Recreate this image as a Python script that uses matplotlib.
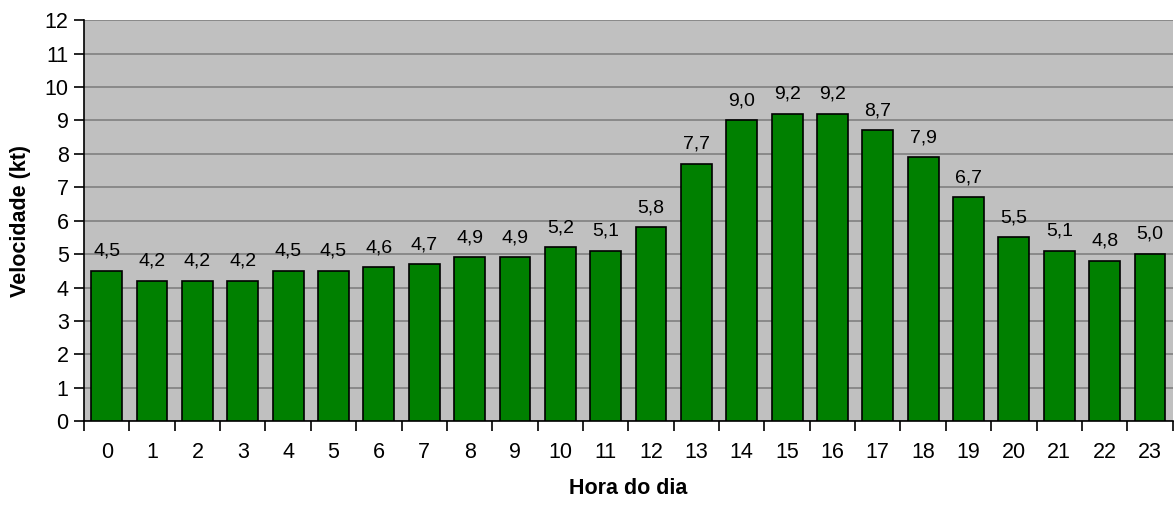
import numpy as np
import matplotlib.pyplot as plt
from matplotlib.ticker import MultipleLocator, FixedLocator

plt.rcParams['font.family'] = ['Liberation Sans', 'DejaVu Sans']

horas = list(range(24))
velocidade = [4.5, 4.2, 4.2, 4.2, 4.5, 4.5, 4.6, 4.7, 4.9, 4.9, 5.2, 5.1,
              5.8, 7.7, 9.0, 9.2, 9.2, 8.7, 7.9, 6.7, 5.5, 5.1, 4.8, 5.0]

fig = plt.figure(figsize=(11.75, 5.05), dpi=100)
ax = fig.add_axes([0.0715, 0.166, 0.9265, 0.794])
ax.set_facecolor('#C0C0C0')

x = np.arange(len(horas))
ax.bar(x, velocidade, width=0.68, color='#008000', edgecolor='black', linewidth=1.2, zorder=3)

for xi, v in zip(x, velocidade):
    ax.annotate(f"{v:.1f}".replace('.', ','), (xi, v), xytext=(0, 8),
                textcoords='offset points', ha='center', va='bottom', fontsize=14)

ax.set_xlim(-0.5, 23.5)
ax.set_ylim(0, 12)
ax.yaxis.set_major_locator(MultipleLocator(1))
ax.grid(axis='y', color='#808080', linewidth=1.2, zorder=0)

ax.set_xticks(x)
ax.set_xticklabels([str(h) for h in horas], fontsize=15.5)
ax.tick_params(axis='x', which='major', length=0, pad=15)
ax.xaxis.set_minor_locator(FixedLocator(np.arange(-0.5, 24, 1)))
ax.tick_params(axis='x', which='minor', length=7, width=1.2, direction='out')
ax.tick_params(axis='y', length=7, width=1.2, labelsize=15.5, pad=4)

for s in ['top', 'right']:
    ax.spines[s].set_visible(False)
ax.spines['left'].set_linewidth(1.2)
ax.spines['bottom'].set_linewidth(1.2)

ax.set_xlabel('Hora do dia', fontsize=15.5, fontweight='bold', labelpad=11)
ax.set_ylabel('Velocidade (kt)', fontsize=15.5, fontweight='bold', labelpad=10)

fig.savefig('out.png', dpi=100)
